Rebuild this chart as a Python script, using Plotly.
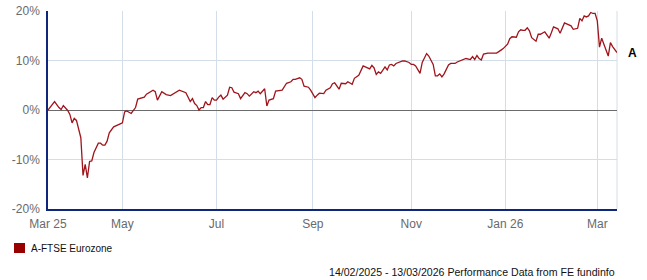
import pandas as pd
import plotly.graph_objects as go

series_name = "A-FTSE Eurozone"
end_label = "A"
start_date = "2025-03-14"
end_date = "2026-03-13"

# trading-day number (weekdays counted from start_date) and cumulative performance (%)
trading_day = [
    0, 3, 5, 6, 7, 9, 10, 11, 12, 13, 15, 16, 17, 18, 19, 20, 21, 23, 24, 25,
    26, 27, 28, 30, 33, 34, 35, 36, 38, 40, 41, 43, 44, 45, 48, 49, 50, 52, 54, 56,
    58, 60, 63, 64, 65, 66, 67, 68, 69, 70, 71, 72, 73, 74, 75, 76, 77, 78, 79, 80,
    82, 83, 84, 85, 87, 88, 90, 91, 92, 94, 95, 96, 97, 99, 100, 101, 103, 104, 106, 107,
    109, 111, 112, 113, 115, 116, 117, 119, 120, 122, 123, 124, 126, 127, 129, 130, 131, 133, 134, 136,
    137, 139, 140, 142, 144, 145, 147, 148, 149, 150, 151, 152, 154, 155, 156, 157, 158, 159, 160, 162,
    163, 165, 166, 167, 168, 170, 171, 173, 174, 176, 177, 178, 179, 180, 181, 183, 184, 186, 187, 189,
    191, 193, 194, 195, 196, 197, 198, 199, 201, 203, 205, 207, 208, 210, 211, 212, 214, 215, 216, 217,
    218, 219, 220, 221, 223, 224, 225, 227, 228, 229, 230, 231, 233, 234, 236, 237, 239, 240, 242, 243,
    244, 245, 246, 247, 248, 249, 250, 251, 252, 253, 255, 256, 257, 258, 260,
]
perf_pct = [
    0.0, 1.7, 0.5, 0.1, 0.9, -0.1, -0.9, -2.6, -1.7, -2.1, -5.6, -13.2, -11.0, -13.7, -10.4, -10.3, -8.6, -6.7, -6.7, -7.1,
    -7.1, -6.3, -4.6, -3.4, -2.8, -2.6, -0.4, -0.2, -0.7, 0.5, 2.2, 2.4, 2.6, 3.2, 4.0, 3.7, 2.0, 3.7, 3.1, 2.9,
    3.4, 4.0, 3.5, 2.5, 1.7, 2.3, 1.3, 0.9, 0.0, 0.5, 0.5, 1.7, 1.1, 1.1, 2.5, 2.0, 2.0, 2.6, 3.0, 2.2,
    3.0, 4.6, 4.5, 3.6, 3.3, 2.3, 3.5, 3.3, 2.8, 3.7, 3.5, 3.8, 3.3, 4.3, 0.8, 2.0, 2.3, 3.8, 4.0, 4.0,
    5.4, 5.7, 6.2, 6.2, 6.5, 6.2, 4.8, 4.6, 4.0, 2.5, 3.0, 3.4, 3.3, 4.0, 4.5, 5.3, 5.5, 4.2, 5.4, 5.3,
    5.7, 5.2, 6.4, 7.0, 8.9, 8.7, 8.3, 9.0, 8.5, 7.2, 7.7, 7.4, 8.7, 8.1, 9.1, 9.2, 8.9, 9.4, 9.6, 9.9,
    9.9, 9.6, 9.2, 9.2, 8.9, 7.4, 9.6, 11.4, 10.9, 9.2, 6.9, 6.9, 7.3, 6.7, 7.3, 9.1, 9.4, 9.4, 9.7, 10.1,
    10.4, 10.2, 10.8, 10.2, 11.0, 10.4, 10.1, 11.3, 11.5, 11.5, 11.5, 12.1, 12.4, 13.3, 14.4, 14.8, 14.7, 15.8, 16.2, 16.1,
    16.1, 16.6, 16.0, 14.6, 13.9, 15.3, 15.3, 15.8, 15.1, 14.5, 15.6, 16.8, 16.4, 15.5, 17.6, 17.4, 17.0, 16.3, 16.5, 18.5,
    18.0, 19.0, 18.8, 19.0, 19.7, 19.5, 19.5, 18.0, 12.7, 14.5, 12.3, 10.9, 13.6, 12.8, 11.6,
]

x_tick_dates = ["2025-03-14", "2025-05-01", "2025-07-01", "2025-09-01", "2025-11-03", "2026-01-01", "2026-03-02"]
x_tick_labels = ["Mar 25", "May", "Jul", "Sep", "Nov", "Jan 26", "Mar"]
y_tick_vals = [-20, -10, 0, 10, 20]
y_tick_labels = ["-20%", "-10%", "0%", "10%", "20%"]
footer_text = "14/02/2025 - 13/03/2026 Performance Data from FE fundinfo"

business_days = pd.bdate_range(start_date, end_date)
dates = business_days[trading_day]

LINE = "#a0141c"
FONT = "Liberation Sans, Arial, sans-serif"

fig = go.Figure()
fig.add_trace(go.Scatter(
    x=dates, y=perf_pct, mode="lines",
    line=dict(color=LINE, width=1.3),
    name=series_name, showlegend=False, hoverinfo="x+y",
))

fig.update_layout(
    width=647, height=280,
    margin=dict(l=48, r=30, t=11, b=71, autoexpand=False),
    paper_bgcolor="white", plot_bgcolor="white",
    font=dict(family=FONT, size=12, color="#666666"),
    showlegend=False,
)

fig.update_xaxes(
    type="date", automargin=False,
    range=[start_date, end_date],
    rangebreaks=[dict(bounds=["sat", "mon"])],
    tickmode="array", tickvals=x_tick_dates, ticktext=x_tick_labels,
    showgrid=True, gridcolor="#d3dee8", gridwidth=1,
    showline=True, linecolor="#10267a", linewidth=1.5,
    ticks="", ticklabelstandoff=3,
    tickfont=dict(family=FONT, size=12, color="#6a6a6a"),
    zeroline=False, fixedrange=True,
)
fig.update_yaxes(
    range=[-20, 20], automargin=False,
    tickmode="array", tickvals=y_tick_vals, ticktext=y_tick_labels,
    showgrid=True, gridcolor="#d3dee8", gridwidth=1,
    showline=True, linecolor="#10267a", linewidth=1.5,
    zeroline=True, zerolinecolor="#6b6b6b", zerolinewidth=1,
    ticks="", ticklabelstandoff=4,
    tickfont=dict(family=FONT, size=12, color="#6a6a6a"),
    fixedrange=True,
)

# right-hand vertical border of plot area
fig.add_shape(type="line", xref="paper", yref="paper", x0=1, x1=1, y0=0, y1=1,
              line=dict(color="#d3dee8", width=1), layer="below")

# end-of-line label
fig.add_annotation(
    x=dates[-1], y=perf_pct[-1], text="<b>%s</b>" % end_label,
    showarrow=False, xanchor="left", yanchor="middle", xshift=9,
    font=dict(family=FONT, size=12, color="#000000"),
)

# legend (square swatch + name)
fig.add_shape(type="rect", xref="paper", yref="paper",
              x0=-34 / 569, x1=-23 / 569, y0=-44 / 198, y1=-34 / 198,
              fillcolor="#990000", line=dict(width=0))
fig.add_annotation(
    xref="paper", yref="paper", x=-19 / 569, y=-39 / 198,
    text=series_name, showarrow=False, xanchor="left", yanchor="middle",
    font=dict(family=FONT, size=10, color="#111111"),
)

# footer
fig.add_annotation(
    xref="paper", yref="paper", x=1, y=-63 / 198,
    text=footer_text, showarrow=False, xanchor="right", yanchor="middle",
    font=dict(family=FONT, size=10.6, color="#111111"),
)

fig.write_html("out.html", config={"displayModeBar": False})
